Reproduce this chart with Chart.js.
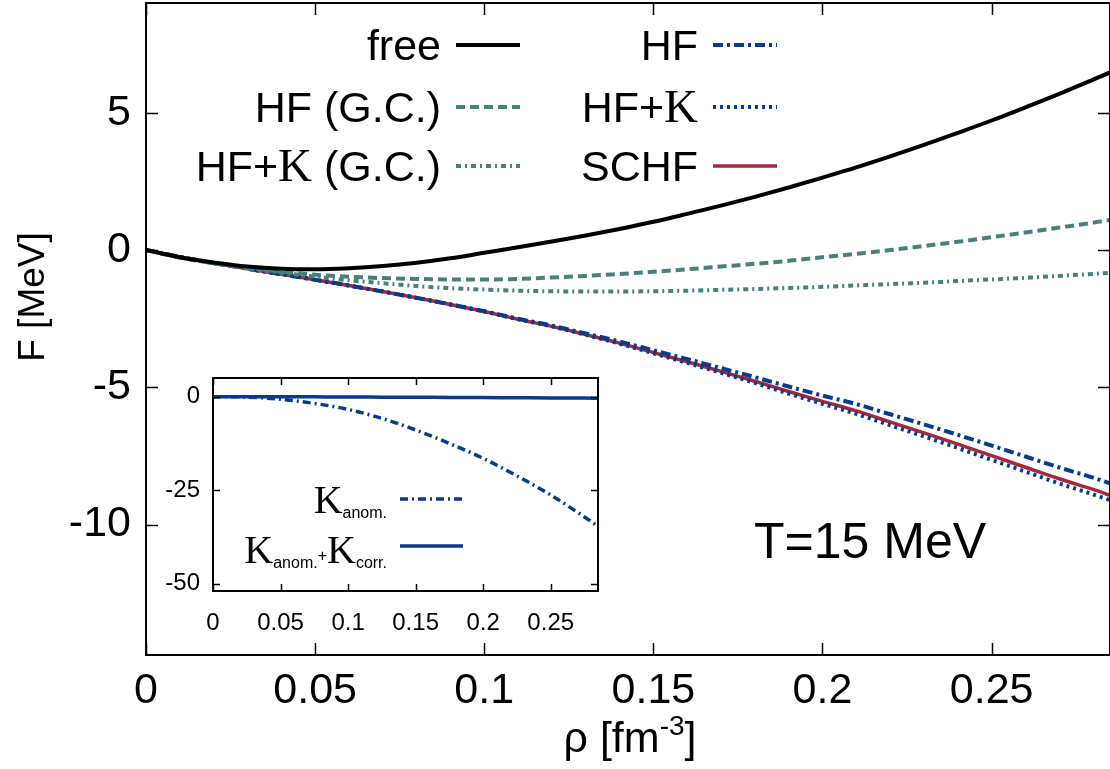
<!DOCTYPE html>
<html><head><meta charset="utf-8">
<script src="https://cdn.jsdelivr.net/npm/chart.js@4.4.1/dist/chart.umd.min.js"></script>
<style>
html,body{margin:0;padding:0;background:#fff;}
#wrap{position:relative;width:1110px;height:769px;overflow:hidden;background:#fff;}
#main{position:absolute;left:0;top:0;}
#inset{position:absolute;left:150px;top:370px;}
</style></head><body>
<div id="wrap"><canvas id="main" width="1110" height="769"></canvas><canvas id="inset" width="460" height="270"></canvas></div>
<script>
// ---------- data ----------
const rho = [0,0.01,0.02,0.03,0.04,0.05,0.06,0.07,0.08,0.09,0.10,0.11,0.12,0.13,0.14,0.15,0.16,0.17,0.18,0.19,0.20,0.21,0.22,0.23,0.24,0.25,0.26,0.27,0.28,0.285];
const fFree  = [0,-0.26,-0.45,-0.60,-0.68,-0.70,-0.66,-0.58,-0.46,-0.30,-0.10,0.10,0.31,0.53,0.77,1.03,1.32,1.62,1.94,2.28,2.64,3.01,3.41,3.83,4.27,4.72,5.20,5.69,6.21,6.47];
const fHFgc  = [0,-0.27,-0.48,-0.65,-0.78,-0.90,-0.97,-1.02,-1.05,-1.07,-1.07,-1.05,-1.00,-0.94,-0.87,-0.79,-0.70,-0.60,-0.50,-0.39,-0.26,-0.14,0.00,0.15,0.30,0.47,0.64,0.82,1.00,1.10];
const fHFKgc = [0,-0.27,-0.48,-0.66,-0.82,-0.97,-1.10,-1.21,-1.31,-1.39,-1.44,-1.48,-1.50,-1.51,-1.51,-1.50,-1.48,-1.45,-1.42,-1.38,-1.34,-1.29,-1.24,-1.19,-1.13,-1.07,-1.01,-0.94,-0.87,-0.83];
const fHF    = [0,-0.25,-0.47,-0.68,-0.88,-1.08,-1.29,-1.51,-1.74,-1.98,-2.23,-2.50,-2.75,-3.04,-3.33,-3.65,-3.97,-4.30,-4.63,-4.97,-5.30,-5.61,-5.98,-6.35,-6.73,-7.12,-7.52,-7.92,-8.29,-8.50];
const fHFK   = [0,-0.25,-0.47,-0.68,-0.88,-1.08,-1.29,-1.51,-1.74,-1.98,-2.24,-2.52,-2.78,-3.09,-3.41,-3.76,-4.11,-4.47,-4.84,-5.23,-5.60,-5.97,-6.38,-6.79,-7.21,-7.64,-8.07,-8.50,-8.90,-9.11];
const fSCHF  = [0,-0.25,-0.47,-0.68,-0.88,-1.08,-1.29,-1.51,-1.74,-1.98,-2.24,-2.52,-2.78,-3.08,-3.39,-3.73,-4.07,-4.42,-4.78,-5.15,-5.51,-5.86,-6.26,-6.66,-7.07,-7.49,-7.91,-8.33,-8.72,-8.93];
const seriesNames = ['free','HF (G.C.)','HF+K (G.C.)','HF','HF+K','SCHF'];
const xTicks = [0,0.05,0.1,0.15,0.2,0.25];
const yTicks = [-10,-5,0,5];

const rhoIn  = [0,0.025,0.05,0.075,0.1,0.125,0.15,0.175,0.2,0.225,0.25,0.275,0.285];
const kAnom  = [0,-0.1,-0.7,-1.8,-3.4,-5.8,-8.9,-12.5,-16.5,-21.2,-26.3,-32.2,-34.7];
const kSum   = [0,0,-0.02,-0.05,-0.08,-0.12,-0.16,-0.2,-0.24,-0.28,-0.32,-0.37,-0.4];
const insetXTicks = [0,0.05,0.1,0.15,0.2,0.25];
const insetYTicks = [-50,-25,0];
const insetNames = ['K anom.','K anom.+K corr.'];

// ---------- styles ----------
const SANS = "'Liberation Sans', Arial, sans-serif";
const SERIF = "'Liberation Serif', 'DejaVu Serif', serif";
const BLACK='#000000', TEAL='#4a807a', BLUE='#0a3a8a', RED='#a3283a';
Chart.defaults.font.family = SANS;
Chart.defaults.color = '#000';

const pts = (xs, ys) => xs.map((x,i)=>({x:x, y:ys[i]}));
const fmt = v => String(+(+v).toFixed(3));

const mainStyles = [
  {c:BLACK, w:4, d:[]},
  {c:TEAL, w:4, d:[9,5]},
  {c:TEAL, w:4, d:[5,4,2,4]},
  {c:BLUE, w:4, d:[10,4,3,4]},
  {c:BLUE, w:4, d:[3,4]},
  {c:RED,  w:3.5, d:[]}
];
const mainSeries = [fFree,fHFgc,fHFKgc,fHF,fHFK,fSCHF];

const frame = {
  id:'frame',
  afterDraw(chart, args, o){
    const {ctx, chartArea:a} = chart;
    const x = chart.scales.x, y = chart.scales.y;
    ctx.save();
    ctx.strokeStyle='#000'; ctx.setLineDash([]);
    ctx.lineWidth=1.5;
    ctx.beginPath();
    x.ticks.forEach(t=>{const p=Math.round(x.getPixelForValue(t.value))+0.5;
      ctx.moveTo(p,a.bottom); ctx.lineTo(p,a.bottom-o.tl);
      ctx.moveTo(p,a.top); ctx.lineTo(p,a.top+o.tl);});
    y.ticks.forEach(t=>{const p=Math.round(y.getPixelForValue(t.value))+0.5;
      ctx.moveTo(a.left,p); ctx.lineTo(a.left+o.tl,p);
      ctx.moveTo(a.right,p); ctx.lineTo(a.right-o.tl,p);});
    ctx.stroke();
    ctx.lineWidth=o.bw;
    ctx.strokeRect(a.left, a.top, a.right-a.left, a.bottom-a.top);
    ctx.restore();
  }
};

function drawSegs(ctx, segs, xRight, baseline){
  let total=0;
  segs.forEach(s=>{ctx.font=s.f; total+=ctx.measureText(s.t).width;});
  let x = xRight-total;
  segs.forEach(s=>{ctx.font=s.f; ctx.textAlign='left'; ctx.textBaseline='alphabetic';
    ctx.fillText(s.t, x, baseline+(s.dy||0)); x+=ctx.measureText(s.t).width;});
}
function sample(ctx, st, x0, x1, yy){
  ctx.save(); ctx.strokeStyle=st.c; ctx.lineWidth=st.w; ctx.setLineDash(st.d);
  ctx.beginPath(); ctx.moveTo(x0,yy); ctx.lineTo(x1,yy); ctx.stroke(); ctx.restore();
}

const LF = '43px '+SANS, KF = '47px '+SERIF;
const legendLayout = [
  {xr:441, y:45,  s0:456, s1:520},
  {xr:441, y:107, s0:456, s1:520},
  {xr:441, y:166, s0:456, s1:520},
  {xr:698, y:45,  s0:713, s1:777},
  {xr:698, y:107, s0:713, s1:777},
  {xr:698, y:166, s0:713, s1:777}
];
function nameSegs(name){
  const parts = name.split(/(K)/).filter(p=>p.length);
  return parts.map(p=>({t:p, f: p==='K'?KF:LF}));
}

const annot = {
  id:'annot',
  afterDraw(chart){
    const ctx = chart.ctx;
    ctx.save(); ctx.fillStyle='#000';
    seriesNames.forEach((n,i)=>{
      const L = legendLayout[i];
      drawSegs(ctx, nameSegs(n), L.xr, L.y+15);
      sample(ctx, mainStyles[i], L.s0, L.s1, L.y);
    });
    ctx.font='50px '+SANS; ctx.textAlign='left'; ctx.textBaseline='alphabetic';
    ctx.fillText('T=15 MeV', 754, 558);
    ctx.save(); ctx.translate(44, 297); ctx.rotate(-Math.PI/2);
    ctx.font='37px '+SANS; ctx.textAlign='center'; ctx.fillText('F [MeV]', 0, 0); ctx.restore();
    const segs=[{t:'ρ [fm',f:'43px '+SANS},{t:'-3',f:'28px '+SANS,dy:-17},{t:']',f:'43px '+SANS}];
    let tot=0; segs.forEach(s=>{ctx.font=s.f; tot+=ctx.measureText(s.t).width;});
    drawSegs(ctx, segs, 630+tot/2, 752);
    ctx.restore();
  }
};

function fixX(h){ return s=>{ s.height=h; s.paddingLeft=0; s.paddingRight=0; }; }
function fixY(w){ return s=>{ s.width=w; s.paddingTop=0; s.paddingBottom=0; }; }

new Chart(document.getElementById('main'), {
  type:'line',
  data:{datasets: mainSeries.map((arr,i)=>({
    label:seriesNames[i], data:pts(rho,arr), borderColor:mainStyles[i].c,
    borderWidth:mainStyles[i].w, borderDash:mainStyles[i].d, pointRadius:0,
    cubicInterpolationMode:'monotone', fill:false}))},
  options:{
    responsive:false, animation:false, devicePixelRatio:1,
    layout:{padding:{top:3,right:0,left:0,bottom:0}},
    plugins:{legend:{display:false}, tooltip:{enabled:false}, frame:{tl:12,bw:2}},
    scales:{
      x:{type:'linear', min:0, max:0.285, grid:{display:false,drawTicks:false}, border:{display:false},
        afterBuildTicks:s=>{s.ticks=xTicks.map(v=>({value:v}));},
        afterFit:fixX(114),
        ticks:{padding:10, font:{size:43}, color:'#000', maxRotation:0, autoSkip:false, callback:v=>fmt(v)}},
      y:{type:'linear', min:-14.75, max:9, grid:{display:false,drawTicks:false}, border:{display:false},
        afterBuildTicks:s=>{s.ticks=yTicks.map(v=>({value:v}));},
        afterFit:fixY(146),
        ticks:{padding:15, font:{size:43}, color:'#000', autoSkip:false, callback:v=>fmt(v)}}
    }
  },
  plugins:[frame, annot]
});

// ---------- inset ----------
const insetStyles = [{c:BLUE,w:3.5,d:[8,4,2,4]},{c:BLUE,w:3.5,d:[]}];
const insetWhite = {id:'insetWhite', beforeDraw(chart){const {ctx,chartArea:a}=chart; ctx.save(); ctx.fillStyle='#fff'; ctx.fillRect(a.left,a.top,a.right-a.left,a.bottom-a.top); ctx.restore();}};
const insetLegend = {
  id:'insetLegend',
  afterDraw(chart){
    const ctx=chart.ctx; const ox=150, oy=370;
    ctx.save(); ctx.fillStyle='#000';
    const KB='40px '+SERIF, SUB='16px '+SANS;
    drawSegs(ctx,[{t:'K',f:KB},{t:'anom.',f:SUB,dy:5}], 387-ox, 513-oy);
    sample(ctx, insetStyles[0], 400-ox, 463-ox, 499-oy);
    drawSegs(ctx,[{t:'K',f:KB},{t:'anom.',f:SUB,dy:5},{t:'+',f:SUB,dy:-2},{t:'K',f:KB},{t:'corr.',f:SUB,dy:5}], 387-ox, 563-oy);
    sample(ctx, insetStyles[1], 400-ox, 463-ox, 546-oy);
    ctx.restore();
  }
};
new Chart(document.getElementById('inset'), {
  type:'line',
  data:{datasets:[kAnom,kSum].map((arr,i)=>({
    label:insetNames[i], data:pts(rhoIn,arr), borderColor:insetStyles[i].c, borderWidth:insetStyles[i].w,
    borderDash:insetStyles[i].d, pointRadius:0, cubicInterpolationMode:'monotone', fill:false}))},
  options:{
    responsive:false, animation:false, devicePixelRatio:1,
    layout:{padding:{top:8,right:12,left:0,bottom:0}},
    plugins:{legend:{display:false}, tooltip:{enabled:false}, frame:{tl:7,bw:2}},
    scales:{
      x:{type:'linear', min:0, max:0.285, grid:{display:false,drawTicks:false}, border:{display:false},
        afterBuildTicks:s=>{s.ticks=insetXTicks.map(v=>({value:v}));},
        afterFit:fixX(49),
        ticks:{padding:18, font:{size:24}, color:'#000', maxRotation:0, autoSkip:false, callback:v=>fmt(v)}},
      y:{type:'linear', min:-52, max:5, grid:{display:false,drawTicks:false}, border:{display:false},
        afterBuildTicks:s=>{s.ticks=insetYTicks.map(v=>({value:v}));},
        afterFit:fixY(63),
        ticks:{padding:13, font:{size:24}, color:'#000', autoSkip:false, callback:v=>fmt(v)}}
    }
  },
  plugins:[insetWhite, frame, insetLegend]
});
</script>
</body></html>
